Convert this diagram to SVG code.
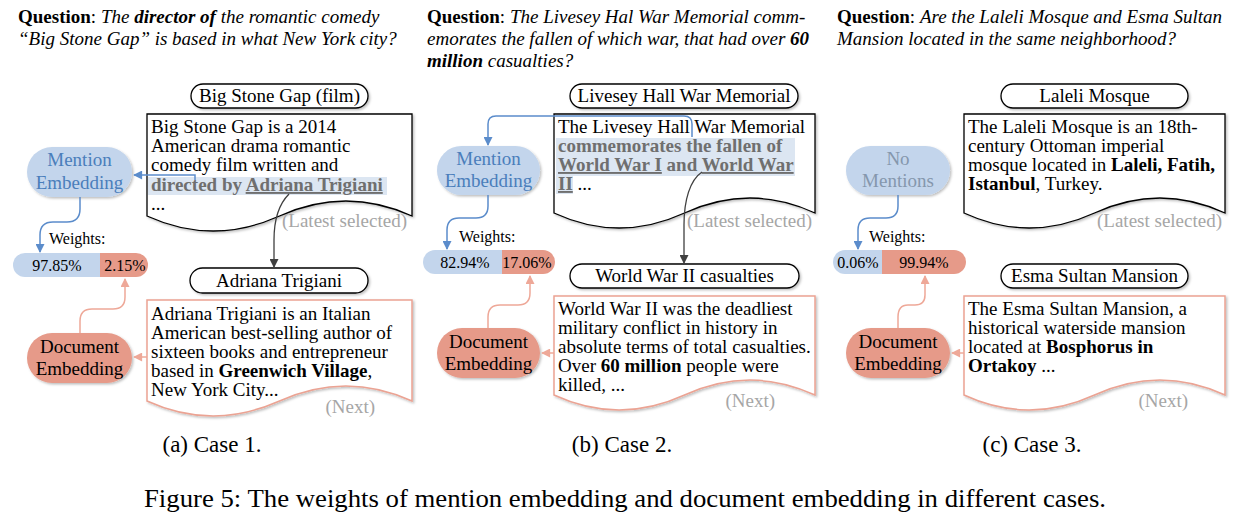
<svg xmlns="http://www.w3.org/2000/svg" width="1255" height="517" viewBox="0 0 1255 517">
<style>
text{font-family:"Liberation Serif","Times New Roman",serif;fill:#000}
.q{font-size:19px;font-style:italic}
.qb{font-weight:bold;font-style:normal}
.bi{font-weight:bold}
.t{font-size:19px}
.c{font-size:23px}
.fc{font-size:25px}
.mid{text-anchor:middle}
.end{text-anchor:end}
.w{font-size:16px}
.gray{fill:#a6a6a6}
.hl{fill:#6f6f6f;font-weight:bold}
.ul{text-decoration:underline}
.bt{fill:#4a7ebb}
.nm{fill:#8597ad}
.name{fill:#fff;stroke:#000;stroke-width:1.3}
.doc{fill:#fff;stroke:#000;stroke-width:1.3}
.doc2{fill:#fff;stroke:#eba393;stroke-width:1.5}
.me{fill:#c3d5ec}
.de{fill:#e69a89}
.bb{fill:#c3d5ec}
.br{fill:#e69a89}
.hbg{fill:#dce6f2}
.lb{fill:none;stroke:#5b8ccb;stroke-width:1.5}
.ls{fill:none;stroke:#eea898;stroke-width:1.5}
.lk{fill:none;stroke:#404040;stroke-width:1.3}
</style>
<defs>
<filter id="sh" x="-10%" y="-10%" width="130%" height="140%"><feDropShadow dx="1.5" dy="1.5" stdDeviation="1" flood-color="#000" flood-opacity="0.25"/></filter>
<marker id="ab" viewBox="0 0 10 10" refX="9" refY="5" markerWidth="10" markerHeight="9" markerUnits="userSpaceOnUse" orient="auto"><path d="M0,0 L10,5 L0,10 Z" fill="#5b8ccb"/></marker>
<marker id="as" viewBox="0 0 10 10" refX="9" refY="5" markerWidth="10" markerHeight="9" markerUnits="userSpaceOnUse" orient="auto"><path d="M0,0 L10,5 L0,10 Z" fill="#eea898"/></marker>
<marker id="ak" viewBox="0 0 10 10" refX="9" refY="5" markerWidth="10" markerHeight="9" markerUnits="userSpaceOnUse" orient="auto"><path d="M0,0 L10,5 L0,10 Z" fill="#404040"/></marker>
</defs>

<!-- ============ Panel (a) ============ -->
<g id="q1">
<text class="q" x="18" y="23"><tspan class="qb">Question</tspan><tspan font-style="normal">: </tspan>The <tspan class="bi">director of</tspan> the romantic comedy</text>
<text class="q" x="18" y="45">“Big Stone Gap” is based in what New York city?</text>
</g>
<g id="n1-name1">
<rect class="name" x="191" y="84" width="177" height="24" rx="12" filter="url(#sh)"/>
<text class="t mid" x="279.5" y="102">Big Stone Gap (film)</text>
</g>
<g id="n1-doc1">
<path class="doc" filter="url(#sh)" d="M147,114 H412 V216 Q346,186 279.5,216 T147,216 Z"/>
<rect class="hbg" x="148" y="177" width="239" height="18"/>
<text class="t" x="151" y="133">Big Stone Gap is a 2014</text>
<text class="t" x="151" y="152">American drama romantic</text>
<text class="t" x="151" y="171">comedy film written and</text>
<text class="t" x="151" y="191"><tspan class="hl">directed by </tspan><tspan class="hl ul">Adriana Trigiani</tspan></text>
<text class="t" x="151" y="210">...</text>
<text class="t gray end" x="407" y="227">(Latest selected)</text>
</g>
<g id="n1-mention">
<rect class="me" x="27" y="147" width="105" height="50" rx="25" filter="url(#sh)"/>
<text class="t mid bt" x="79.5" y="166">Mention</text>
<text class="t mid bt" x="79.5" y="189">Embedding</text>
</g>
<g id="n1-weights">
<text class="w" x="49" y="244">Weights:</text>
<path class="bb" d="M25,253 H100 V277 H25 A12,12 0 0 1 25,253 Z"/>
<path class="br" d="M100,253 H136 A12,12 0 0 1 136,277 H100 Z"/>
<text class="w mid" x="57" y="271">97.85%</text>
<text class="w mid" x="125" y="271">2.15%</text>
</g>
<g id="n1-name2">
<rect class="name" x="190" y="268" width="178" height="25" rx="12.5" filter="url(#sh)"/>
<text class="t mid" x="279" y="287">Adriana Trigiani</text>
</g>
<g id="n1-doc2">
<path class="doc2" filter="url(#sh)" d="M147,300 H412 V401 Q346,371 279.5,401 T147,401 Z"/>
<text class="t" x="151" y="320">Adriana Trigiani is an Italian</text>
<text class="t" x="151" y="339">American best-selling author of</text>
<text class="t" x="151" y="358">sixteen books and entrepreneur</text>
<text class="t" x="151" y="377">based in <tspan class="bi">Greenwich Village</tspan>,</text>
<text class="t" x="151" y="396">New York City...</text>
<text class="t gray end" x="375" y="413">(Next)</text>
</g>
<g id="n1-docemb">
<rect class="de" x="27" y="333" width="105" height="50" rx="25" filter="url(#sh)"/>
<text class="t mid" x="79.5" y="353">Document</text>
<text class="t mid" x="79.5" y="375">Embedding</text>
</g>
<text class="c mid" x="212" y="452">(a) Case 1.</text>

<!-- ============ Panel (b) ============ -->
<g id="q2">
<text class="q" x="427" y="23"><tspan class="qb">Question</tspan><tspan font-style="normal">: </tspan>The Livesey Hal War Memorial comm-</text>
<text class="q" x="427" y="45">emorates the fallen of which war, that had over <tspan class="bi">60</tspan></text>
<text class="q" x="427" y="67"><tspan class="bi">million</tspan> casualties?</text>
</g>
<g id="n2-name1">
<rect class="name" x="570" y="84" width="228" height="24" rx="12" filter="url(#sh)"/>
<text class="t mid" x="684" y="102">Livesey Hall War Memorial</text>
</g>
<g id="n2-doc1">
<path class="doc" filter="url(#sh)" d="M554,114 H815 V213 Q750,183 684.5,213 T554,213 Z"/>
<rect class="hbg" x="556" y="138" width="239" height="38"/>
<rect class="hbg" x="556" y="176" width="17" height="18"/>
<text class="t" x="558" y="133">The Livesey Hall War Memorial</text>
<text class="t" x="558" y="152"><tspan class="hl">commemorates the fallen of</tspan></text>
<text class="t" x="558" y="171"><tspan class="hl ul">World War I</tspan><tspan class="hl"> and </tspan><tspan class="hl ul">World War</tspan></text>
<text class="t" x="558" y="190"><tspan class="hl ul">II</tspan> ...</text>
<text class="t gray end" x="812" y="227">(Latest selected)</text>
</g>
<g id="n2-mention">
<rect class="me" x="437" y="146" width="103" height="49" rx="24.5" filter="url(#sh)"/>
<text class="t mid bt" x="488.5" y="165">Mention</text>
<text class="t mid bt" x="488.5" y="187">Embedding</text>
</g>
<g id="n2-weights">
<text class="w" x="459" y="242">Weights:</text>
<path class="bb" d="M435,250 H502 V274 H435 A12,12 0 0 1 435,250 Z"/>
<path class="br" d="M502,250 H543 A12,12 0 0 1 543,274 H502 Z"/>
<text class="w mid" x="465" y="268">82.94%</text>
<text class="w mid" x="527" y="268">17.06%</text>
</g>
<g id="n2-name2">
<rect class="name" x="570" y="264" width="229" height="24" rx="12" filter="url(#sh)"/>
<text class="t mid" x="684.5" y="282">World War II casualties</text>
</g>
<g id="n2-doc2">
<path class="doc2" filter="url(#sh)" d="M554,296 H815 V395 Q750,365 684.5,395 T554,395 Z"/>
<text class="t" x="558" y="315">World War II was the deadliest</text>
<text class="t" x="558" y="334">military conflict in history in</text>
<text class="t" x="558" y="353">absolute terms of total casualties.</text>
<text class="t" x="558" y="372">Over <tspan class="bi">60 million</tspan> people were</text>
<text class="t" x="558" y="391">killed, ...</text>
<text class="t gray end" x="775" y="407">(Next)</text>
</g>
<g id="n2-docemb">
<rect class="de" x="437" y="328" width="103" height="50" rx="25" filter="url(#sh)"/>
<text class="t mid" x="488.5" y="348">Document</text>
<text class="t mid" x="488.5" y="370">Embedding</text>
</g>
<text class="c mid" x="622" y="452">(b) Case 2.</text>

<!-- ============ Panel (c) ============ -->
<g id="q3">
<text class="q" x="837" y="23"><tspan class="qb">Question</tspan><tspan font-style="normal">: </tspan>Are the Laleli Mosque and Esma Sultan</text>
<text class="q" x="837" y="45">Mansion located in the same neighborhood?</text>
</g>
<g id="n3-name1">
<rect class="name" x="1001" y="84" width="187" height="24" rx="12" filter="url(#sh)"/>
<text class="t mid" x="1094.5" y="102">Laleli Mosque</text>
</g>
<g id="n3-doc1">
<path class="doc" filter="url(#sh)" d="M964,114 H1225 V213 Q1160,183 1094.5,213 T964,213 Z"/>
<text class="t" x="968" y="133">The Laleli Mosque is an 18th-</text>
<text class="t" x="968" y="152">century Ottoman imperial</text>
<text class="t" x="968" y="171">mosque located in <tspan class="bi">Laleli, Fatih,</tspan></text>
<text class="t" x="968" y="190"><tspan class="bi">Istanbul</tspan>, Turkey.</text>
<text class="t gray end" x="1222" y="227">(Latest selected)</text>
</g>
<g id="n3-mention">
<rect class="me" x="846" y="146" width="104" height="49" rx="24.5" filter="url(#sh)"/>
<text class="t mid nm" x="898" y="165">No</text>
<text class="t mid nm" x="898" y="187">Mentions</text>
</g>
<g id="n3-weights">
<text class="w" x="869" y="242">Weights:</text>
<path class="bb" d="M845,250 H882 V274 H845 A12,12 0 0 1 845,250 Z"/>
<path class="br" d="M882,250 H954 A12,12 0 0 1 954,274 H882 Z"/>
<text class="w mid" x="858" y="268">0.06%</text>
<text class="w mid" x="924" y="268">99.94%</text>
</g>
<g id="n3-name2">
<rect class="name" x="1001" y="264" width="187" height="24" rx="12" filter="url(#sh)"/>
<text class="t mid" x="1094.5" y="282">Esma Sultan Mansion</text>
</g>
<g id="n3-doc2">
<path class="doc2" filter="url(#sh)" d="M964,296 H1225 V395 Q1160,365 1094.5,395 T964,395 Z"/>
<text class="t" x="968" y="315">The Esma Sultan Mansion, a</text>
<text class="t" x="968" y="334">historical waterside mansion</text>
<text class="t" x="968" y="353">located at <tspan class="bi">Bosphorus in</tspan></text>
<text class="t" x="968" y="372"><tspan class="bi">Ortakoy</tspan>  ...</text>
<text class="t gray end" x="1188" y="407">(Next)</text>
</g>
<g id="n3-docemb">
<rect class="de" x="846" y="328" width="104" height="50" rx="25" filter="url(#sh)"/>
<text class="t mid" x="898" y="348">Document</text>
<text class="t mid" x="898" y="370">Embedding</text>
</g>
<text class="c mid" x="1032" y="452">(c) Case 3.</text>

<!-- ============ Connectors ============ -->
<g id="connectors">
<path class="lb" d="M195,180 V175 H134" marker-end="url(#ab)"/>
<path class="lb" d="M80,197 V209 Q80,222 67,222 H53 Q40,222 40,235 V252" marker-end="url(#ab)"/>
<path class="ls" d="M147,357 H134" marker-end="url(#as)"/>
<path class="ls" d="M80,333 V321 Q80,309 92,309 H113 Q125,309 125,297 V279" marker-end="url(#as)"/>
<path class="lk" d="M289,194 C279,204 274,220 274,240 V267" marker-end="url(#ak)"/>

<path class="lb" d="M692,137 V124 Q692,116 684,116 H496 Q488,116 488,124 V145" marker-end="url(#ab)"/>
<path class="lb" d="M488,195 V206 Q488,218 476,218 H459 Q447,218 447,230 V249" marker-end="url(#ab)"/>
<path class="ls" d="M554,353 H542" marker-end="url(#as)"/>
<path class="ls" d="M488,328 V317 Q488,305 500,305 H518 Q530,305 530,293 V276" marker-end="url(#as)"/>
<path class="lk" d="M702,172 C690,180 684,200 684,225 V263" marker-end="url(#ak)"/>

<path class="lb" d="M898,195 V206 Q898,218 886,218 H870 Q858,218 858,230 V249" marker-end="url(#ab)"/>
<path class="ls" d="M964,353 H952" marker-end="url(#as)"/>
<path class="ls" d="M898,328 V317 Q898,305 908,305 H915 Q925,305 925,295 V276" marker-end="url(#as)"/>
</g>

<text class="fc" x="144" y="507" textLength="962" lengthAdjust="spacingAndGlyphs">Figure 5: The weights of mention embedding and document embedding in different cases.</text>
</svg>
